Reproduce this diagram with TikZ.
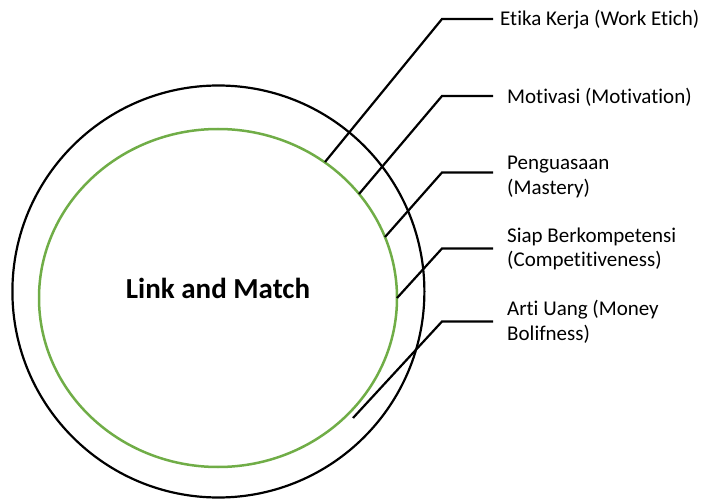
\documentclass[tikz,border=0pt]{standalone}
\usepackage{fontspec}
\setmainfont{Carlito}[Ligatures=NoCommon]
\usetikzlibrary{shapes.geometric}
\definecolor{leafgreen}{RGB}{112,173,71}
\tikzset{
  ring/.style={draw=black, line width=2.2pt},
  core/.style={draw=leafgreen, line width=2.5pt},
  leader/.style={draw=black, line width=2.2pt, line join=miter},
  tag/.style={anchor=west, inner sep=0pt, align=left,
    font=\fontsize{21}{24.5}\selectfont},
}
\begin{document}
\begin{tikzpicture}[x=1pt, y=-1pt]
  \useasboundingbox (0,0) rectangle (705,500);
  % outer ring and inner green ellipse
  \draw[ring] (218.4,291.5) circle (206);
  \draw[core] (218,298) ellipse (179 and 169);
  \node[font=\fontsize{29}{30}\selectfont\bfseries] (title) at (218,288) {Link and Match};

  % leader end points, elbows and label ends
  \coordinate (e1) at (325,162);   \coordinate (k1) at (442,19);    \coordinate (h1) at (493,19);
  \coordinate (e2) at (359,194);   \coordinate (k2) at (442,96);    \coordinate (h2) at (493,96);
  \coordinate (e3) at (385,237);   \coordinate (k3) at (442,172.5); \coordinate (h3) at (493,172.5);
  \coordinate (e4) at (397,298);   \coordinate (k4) at (442,248.5); \coordinate (h4) at (493,248.5);
  \coordinate (e5) at (353,418);   \coordinate (k5) at (442,321.5); \coordinate (h5) at (493,321.5);

  \draw[leader] (e1) -- (k1) -- (h1);
  \draw[leader] (e2) -- (k2) -- (h2);
  \draw[leader] (e3) -- (k3) -- (h3);
  \draw[leader] (e4) -- (k4) -- (h4);
  \draw[leader] (e5) -- (k5) -- (h5);

  \node[tag] (t1) at (500,19.5) {Etika Kerja (Work Etich)};
  \node[tag] (t2) at (507,97) {Motivasi (Motivation)};
  \node[tag] (t3) at (507,177) {Penguasaan\\(Mastery)};
  \node[tag] (t4) at (507,249) {Siap Berkompetensi\\(Competitiveness)};
  \node[tag] (t5) at (507,322) {Arti Uang (Money\\Bolifness)};
\end{tikzpicture}
\end{document}
